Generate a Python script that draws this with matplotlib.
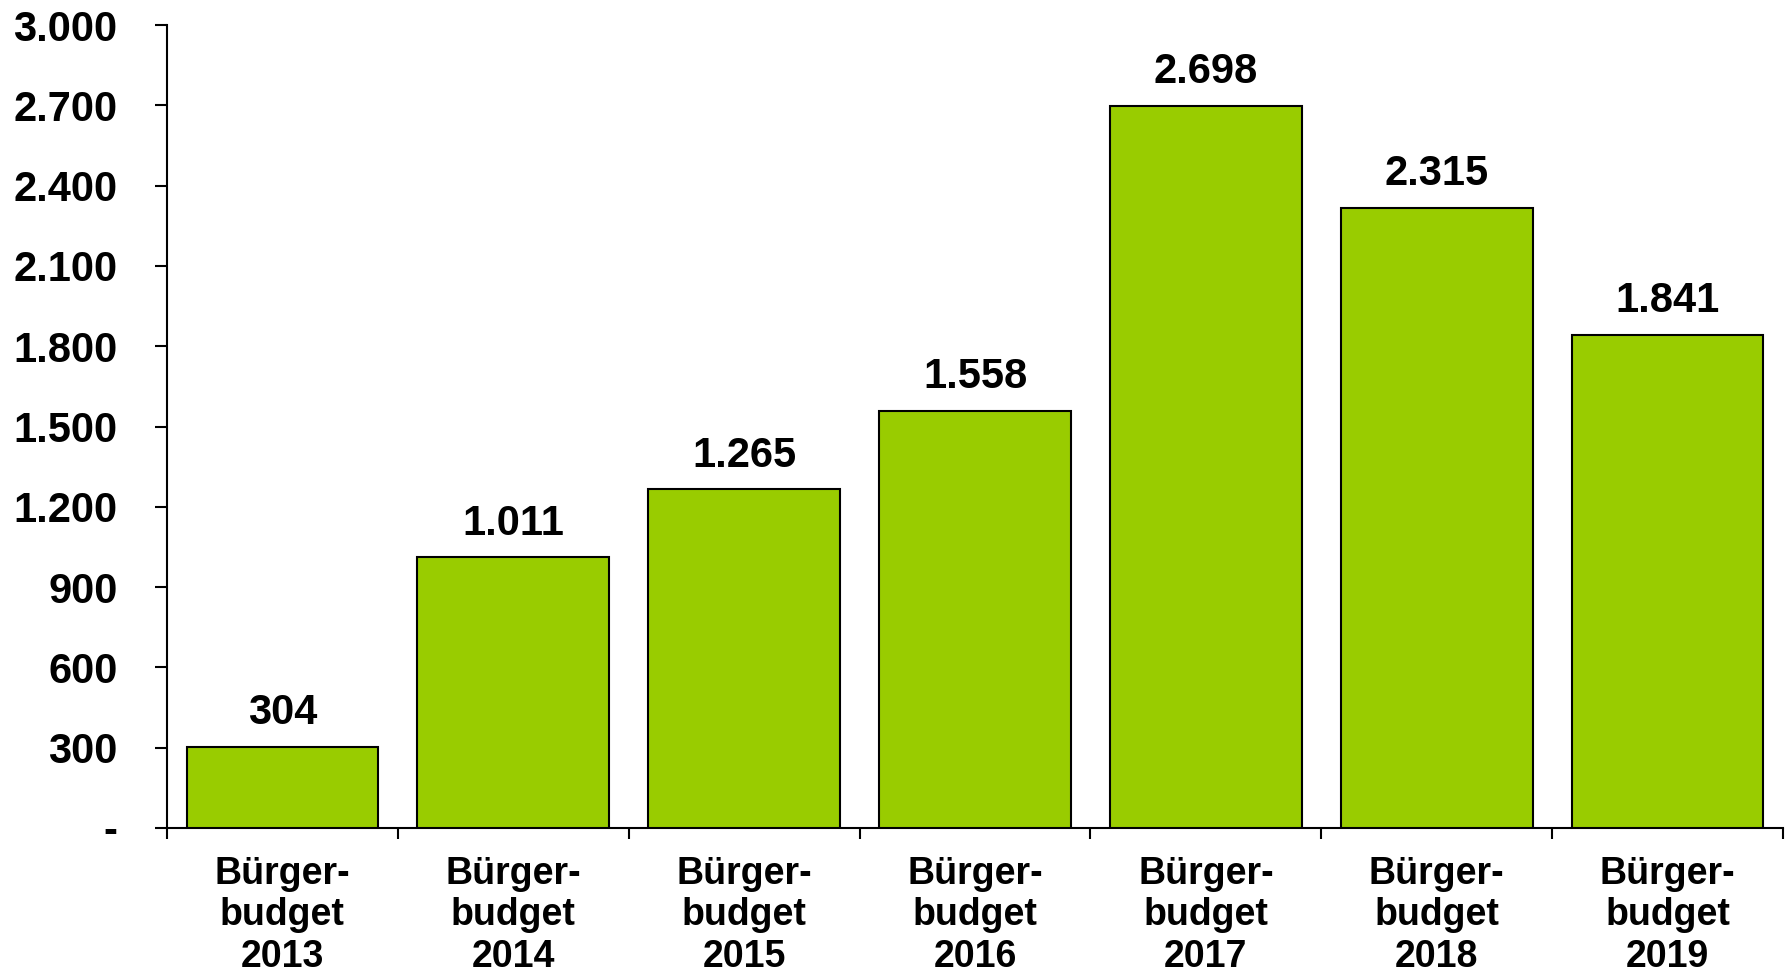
import matplotlib
matplotlib.use("Agg")
import matplotlib.pyplot as plt
from matplotlib.ticker import FixedLocator, FuncFormatter

categories = ["Bürger-\nbudget\n2013", "Bürger-\nbudget\n2014", "Bürger-\nbudget\n2015",
              "Bürger-\nbudget\n2016", "Bürger-\nbudget\n2017", "Bürger-\nbudget\n2018",
              "Bürger-\nbudget\n2019"]
values = [304, 1011, 1265, 1558, 2698, 2315, 1841]
yticks = [0, 300, 600, 900, 1200, 1500, 1800, 2100, 2400, 2700, 3000]

plt.rcParams['font.family'] = ['Liberation Sans', 'DejaVu Sans']
plt.rcParams['font.weight'] = 'bold'

def fmt(v):
    if v == 0:
        return "-"
    return f"{int(v):,}".replace(",", ".")

fig = plt.figure(figsize=(17.9, 9.74), dpi=100)
ax = fig.add_axes([0.0933, 0.1499, 0.9961 - 0.0933, 0.9743 - 0.1499])

x = list(range(len(values)))
bars = ax.bar(x, values, width=0.83, color="#99CC00", edgecolor="black", linewidth=1.5, zorder=3)

for xi, v in zip(x, values):
    ax.annotate(fmt(v), (xi, v), xytext=(0, 10), textcoords="offset points",
                ha="center", va="bottom", fontsize=30, fontweight="bold", color="black")

ax.set_xlim(-0.5, len(values) - 0.5)
ax.set_ylim(0, 3000)
ax.set_yticks(yticks)
ax.yaxis.set_major_formatter(FuncFormatter(lambda v, p: fmt(v)))
ax.tick_params(axis="y", direction="out", length=8.6, width=1.5, pad=27, labelsize=30)

ax.set_xticks(x)
ax.set_xticklabels(categories, fontsize=27, fontweight="bold", linespacing=1.2)
ax.xaxis.set_minor_locator(FixedLocator([i - 0.5 for i in range(len(values) + 1)]))
ax.tick_params(axis="x", which="major", length=0, pad=20)
ax.tick_params(axis="x", which="minor", direction="out", length=8, width=1.5)

for lbl in ax.get_yticklabels():
    lbl.set_fontweight("bold")

ax.spines["top"].set_visible(False)
ax.spines["right"].set_visible(False)
ax.spines["left"].set_linewidth(1.5)
ax.spines["bottom"].set_linewidth(1.5)

fig.savefig("out.png", dpi=100, facecolor="white")
